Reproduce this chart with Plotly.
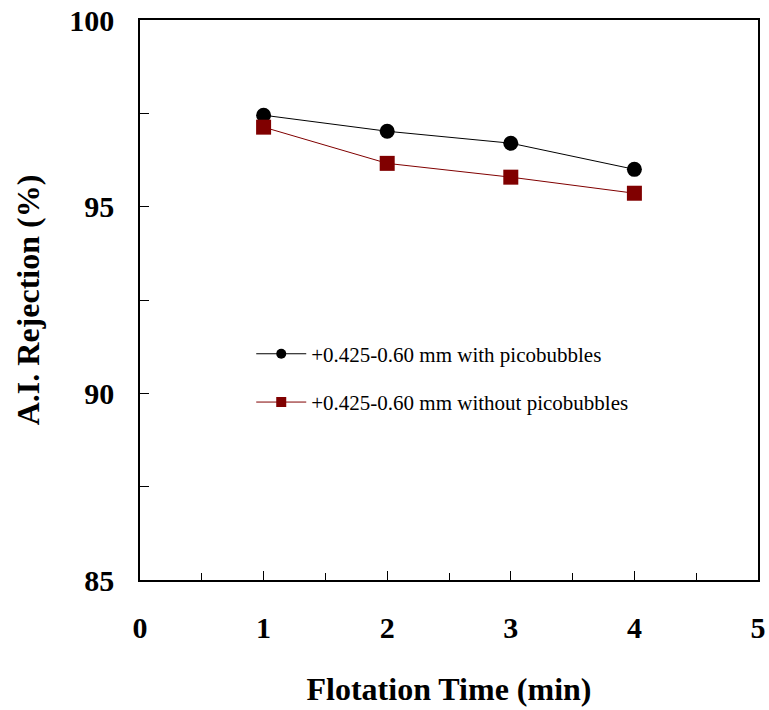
import plotly.graph_objects as go

# Flotation time (min)
time_min = [1, 2, 3, 4]
# A.I. rejection (%) for +0.425-0.60 mm feed
with_pico = [97.45, 97.02, 96.70, 96.00]
without_pico = [97.13, 96.16, 95.79, 95.36]

series_names = [
    "+0.425-0.60 mm with picobubbles",
    "+0.425-0.60 mm without picobubbles",
]
series_colors = ["black", "#800000"]
series_symbols = ["circle", "square"]
series_values = [with_pico, without_pico]

x_ticks = [0, 1, 2, 3, 4, 5]
y_ticks = [85, 90, 95, 100]

serif = "Liberation Serif, Times New Roman, serif"

fig = go.Figure()
for name, color, symbol, values in zip(series_names, series_colors, series_symbols, series_values):
    # data series
    fig.add_trace(go.Scatter(
        x=time_min, y=values, name=name, mode="lines+markers",
        line=dict(color=color, width=1),
        marker=dict(symbol=symbol, size=15, color=color),
        legendgroup=name, showlegend=False,
    ))
    # legend entry with smaller symbol
    fig.add_trace(go.Scatter(
        x=[None], y=[None], name=name, mode="lines+markers",
        line=dict(color=color, width=1),
        marker=dict(symbol=symbol, size=10, color=color),
        legendgroup=name, showlegend=True,
    ))

fig.update_layout(
    width=769, height=710,
    margin=dict(l=140, r=11, t=20, b=130),
    plot_bgcolor="white", paper_bgcolor="white",
    font=dict(family=serif, color="black"),
    legend=dict(
        x=0.18, y=0.44, xanchor="left", yanchor="top",
        bgcolor="rgba(0,0,0,0)", font=dict(size=21, family=serif),
        tracegroupgap=18, traceorder="grouped", itemwidth=50,
    ),
)
fig.update_xaxes(
    range=[0, 5], tickvals=x_ticks, ticktext=[str(v) for v in x_ticks],
    showgrid=False, zeroline=False, automargin=False,
    showline=True, linecolor="black", linewidth=1.5, mirror=True,
    ticks="inside", ticklen=9, tickcolor="black", tickwidth=1,
    minor=dict(dtick=0.5, ticks="inside", ticklen=7, tickcolor="black", tickwidth=1),
    tickfont=dict(size=30, family=serif, weight="bold"),
    ticklabelstandoff=20,
    title=dict(text="<b>Flotation Time (min)</b>", font=dict(size=32, family=serif), standoff=35),
)
fig.update_yaxes(
    range=[85, 100], tickvals=y_ticks, ticktext=[str(v) for v in y_ticks],
    showgrid=False, zeroline=False, automargin=False,
    showline=True, linecolor="black", linewidth=1.5, mirror=True,
    ticks="inside", ticklen=9, tickcolor="black", tickwidth=1,
    minor=dict(dtick=2.5, ticks="inside", ticklen=9, tickcolor="black", tickwidth=1),
    tickfont=dict(size=30, family=serif, weight="bold"),
    ticklabelstandoff=18,
    title=dict(text="<b>A.I. Rejection (%)</b>", font=dict(size=32, family=serif), standoff=20),
)

fig.write_html("out.html")
